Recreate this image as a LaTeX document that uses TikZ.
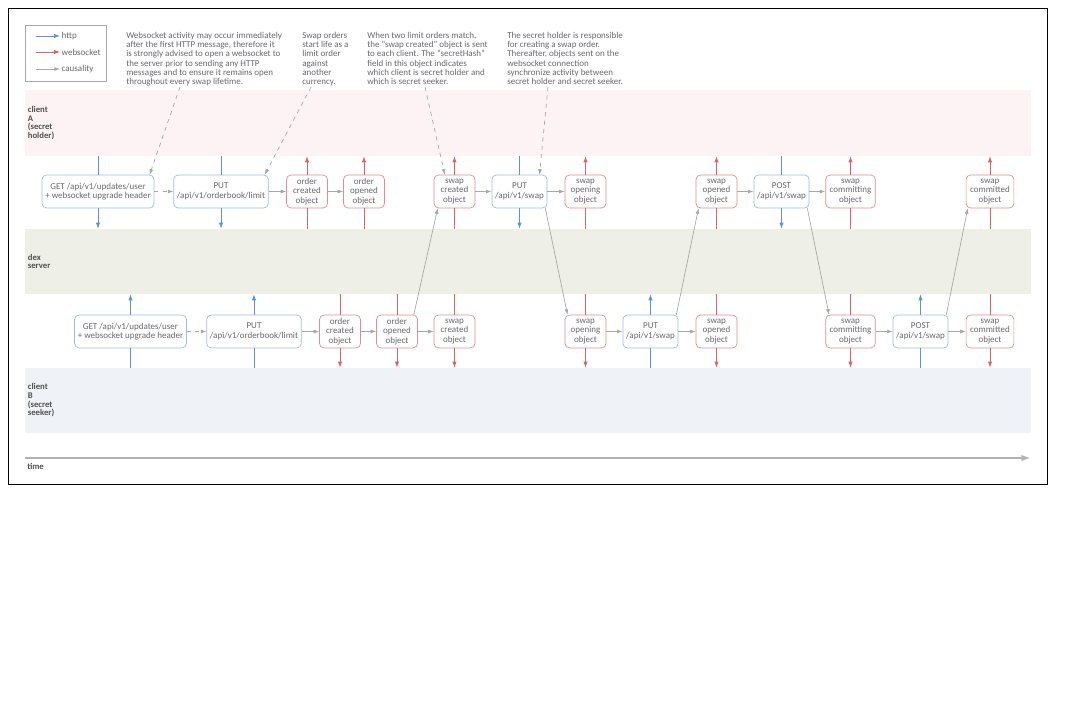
\documentclass[tikz,border=0pt]{standalone}
\usepackage{fontspec}
\setmainfont{Carlito}
\usepackage{xcolor}
\usetikzlibrary{arrows.meta, positioning, calc}

\definecolor{httpc}{RGB}{98,146,214}
\definecolor{httpbd}{RGB}{158,189,230}
\definecolor{wsc}{RGB}{218,100,102}
\definecolor{wsbd}{RGB}{228,140,142}
\definecolor{causc}{RGB}{168,168,168}
\definecolor{txtgray}{RGB}{105,105,110}
\definecolor{lanetxt}{RGB}{80,80,80}
\definecolor{laneAfill}{RGB}{253,243,244}
\definecolor{dexfill}{RGB}{238,240,232}
\definecolor{laneBfill}{RGB}{239,242,247}
\definecolor{timegray}{RGB}{178,178,178}

\begin{document}
\begin{tikzpicture}[
  x=0.025cm, y=-0.025cm,
  font=\fontsize{6.4}{6.55}\selectfont, text=txtgray,
  httpbox/.style={rectangle, draw=httpbd, rounded corners=3pt, minimum height=0.82cm,
                  inner xsep=0.08cm, inner ysep=0.05cm, align=center, fill=white, line width=0.5pt,
                  font=\fontsize{6.4}{6.8}\selectfont},
  wsbox/.style={rectangle, draw=wsbd, rounded corners=3pt, minimum height=0.82cm,
                minimum width=1.02cm, inner xsep=0.1cm, inner ysep=0.05cm, align=center,
                fill=white, line width=0.5pt, font=\fontsize{6.4}{6.8}\selectfont},
  httpl/.style={draw=httpc, line width=0.6pt},
  http/.style={httpl, -{Latex[length=1.5mm, width=1.1mm]}},
  wsl/.style={draw=wsc, line width=0.6pt},
  ws/.style={wsl, -{Latex[length=1.5mm, width=1.1mm]}},
  caus/.style={draw=causc, line width=0.5pt, -{Latex[length=1.4mm, width=1mm]}},
  causd/.style={caus, dashed},
  note/.style={anchor=north west, align=left, inner sep=0pt},
  lane/.style={rectangle, minimum width=25.15cm, inner sep=0pt},
  lanelbl/.style={anchor=west, align=left, inner sep=0pt,
                  font=\fontsize{6.2}{6.2}\selectfont\bfseries, text=lanetxt},
  legtxt/.style={anchor=west, inner sep=1pt},
  timearr/.style={draw=timegray, line width=1.8pt, -{Latex[length=2.4mm, width=1.6mm]}}
]
\useasboundingbox (0,0) rectangle (1080,720);
\draw[line width=0.6pt] (8,8) rectangle (1047,484);

% --- Lanes ---
\node[lane, fill=laneAfill, minimum height=1.65cm]  (laneA) at (528,123)   {};
\node[lane, fill=dexfill,   minimum height=1.625cm] (dex)   at (528,261.5) {};
\node[lane, fill=laneBfill, minimum height=1.625cm] (laneB) at (528,400.5) {};
\node[lanelbl] (lblA)   at ([xshift=0.075cm]laneA.west) {client\\A\\(secret\\holder)};
\node[lanelbl] (lblDex) at ([xshift=0.075cm]dex.west)   {dex\\server};
\node[lanelbl] (lblB)   at ([xshift=0.075cm]laneB.west) {client\\B\\(secret\\seeker)};

% --- Legend ---
\draw[draw=causc, line width=0.5pt] (25,25) rectangle (106,81);
\node[legtxt] (lh) at (60,36) {http};
\node[legtxt] (lw) at (60,52) {websocket};
\node[legtxt] (lc) at (60,69) {causality};
\draw[http] ([xshift=-0.6cm]lh.west) -- (lh.west);
\draw[ws]   ([xshift=-0.6cm]lw.west) -- (lw.west);
\draw[caus] ([xshift=-0.6cm]lc.west) -- (lc.west);

% --- Notes ---
\node[note] (note1) at (126,32) {Websocket activity may occur immediately\\after the first HTTP message, therefore it\\is strongly advised to open a websocket to\\the server prior to sending any HTTP\\messages and to ensure it remains open\\throughout every swap lifetime.};
\node[note] (note2) at (302,32) {Swap orders\\start life as a\\limit order\\against\\another\\currency.};
\node[note] (note3) at (367,32) {When two limit orders match,\\the “swap created” object is sent\\to each client. The “secretHash”\\field in this object indicates\\which client is secret holder and\\which is secret seeker.};
\node[note] (note4) at (507,32) {The secret holder is responsible\\for creating a swap order.\\Thereafter, objects sent on the\\websocket connection\\synchronize activity between\\secret holder and secret seeker.};
\coordinate (n1) at (180,87);
\coordinate (n2) at (311,87);
\coordinate (n3) at (425,87);
\coordinate (n4) at (548,87);

% --- Client A row ---
\node[httpbox] (getA)  at (98,191.5)  {GET /api/v1/updates/user\\+ websocket upgrade header};
\node[httpbox] (limA)  at (221,191.5) {PUT\\/api/v1/orderbook/limit};
\node[wsbox]   (ocA)   at (307,191.5) {order\\created\\object};
\node[wsbox]   (ooA)   at (364,191.5) {order\\opened\\object};
\node[wsbox]   (scA)   at (454.5,191.5) {swap\\created\\object};
\node[httpbox] (psA)   at (519.5,191.5) {PUT\\/api/v1/swap};
\node[wsbox]   (sopA)  at (585.5,191.5) {swap\\opening\\object};
\node[wsbox]   (sodA)  at (716.5,191.5) {swap\\opened\\object};
\node[httpbox] (postA) at (781.5,191.5) {POST\\/api/v1/swap};
\node[wsbox]   (scmA)  at (850.5,191.5) {swap\\committing\\object};
\node[wsbox]   (scdA)  at (990,191.5)   {swap\\committed\\object};

% --- Client B row ---
\node[httpbox] (getB)  at (130.5,331.5) {GET /api/v1/updates/user\\+ websocket upgrade header};
\node[httpbox] (limB)  at (254,331.5)   {PUT\\/api/v1/orderbook/limit};
\node[wsbox]   (ocB)   at (340,331.5)   {order\\created\\object};
\node[wsbox]   (ooB)   at (397,331.5)   {order\\opened\\object};
\node[wsbox]   (scB)   at (454.5,331.5) {swap\\created\\object};
\node[wsbox]   (sopB)  at (585.5,331.5) {swap\\opening\\object};
\node[httpbox] (psB)   at (650.5,331.5) {PUT\\/api/v1/swap};
\node[wsbox]   (sodB)  at (716.5,331.5) {swap\\opened\\object};
\node[wsbox]   (scmB)  at (850.5,331.5) {swap\\committing\\object};
\node[httpbox] (postB) at (920.5,331.5) {POST\\/api/v1/swap};
\node[wsbox]   (scdB)  at (990,331.5)   {swap\\committed\\object};

% http: client -> server
\foreach \b in {getA,limA,psA,postA} {
  \draw[httpl] (\b |- laneA.south) -- (\b.north);
  \draw[http]  (\b.south) -- (\b |- dex.north);
}
\foreach \b in {getB,limB,psB,postB} {
  \draw[httpl] (\b |- laneB.north) -- (\b.south);
  \draw[http]  (\b.north) -- (\b |- dex.south);
}

% websocket: server -> client
\foreach \b in {ocA,ooA,scA,sopA,sodA,scmA,scdA} {
  \draw[wsl] (\b |- dex.north) -- (\b.south);
  \draw[ws]  (\b.north) -- (\b |- laneA.south);
}
\foreach \b in {ocB,ooB,scB,sopB,sodB,scmB,scdB} {
  \draw[wsl] (\b |- dex.south) -- (\b.north);
  \draw[ws]  (\b.south) -- (\b |- laneB.north);
}

% causality within a row
\draw[causd] (getA) -- (limA);
\draw[caus] (limA) -- (ocA);
\draw[caus] (ocA) -- (ooA);
\draw[caus] (scA) -- (psA);
\draw[caus] (psA) -- (sopA);
\draw[caus] (sodA) -- (postA);
\draw[caus] (postA) -- (scmA);

\draw[causd] (getB) -- (limB);
\draw[caus] (limB) -- (ocB);
\draw[caus] (ocB) -- (ooB);
\draw[caus] (ooB) -- (scB);
\draw[caus] (sopB) -- (psB);
\draw[caus] (psB) -- (sodB);
\draw[caus] (scmB) -- (postB);
\draw[caus] (postB) -- (scdB);

% causality across rows
\draw[caus] (ooB.45)   -- (scA.-135);
\draw[caus] (psA.-33)  -- (sopB.137);
\draw[caus] (psB.33)   -- (sodA.-137);
\draw[caus] (postA.-33) -- (scmB.142);
\draw[caus] (postB.33) -- (scdA.-143);

% notes
\draw[causd] (n1) -- (getA.18);
\draw[causd] (n2) -- (limA.21);
\draw[causd] (n3) -- (scA.120);
\draw[causd] (n4) -- (psA.40);

% --- Time ---
\coordinate (t0) at (25,458);
\coordinate (t1) at (1031,458);
\draw[timearr] (t0) -- (t1);
\node[lanelbl] (timelbl) at (27,466) {time};

\end{tikzpicture}
\end{document}
